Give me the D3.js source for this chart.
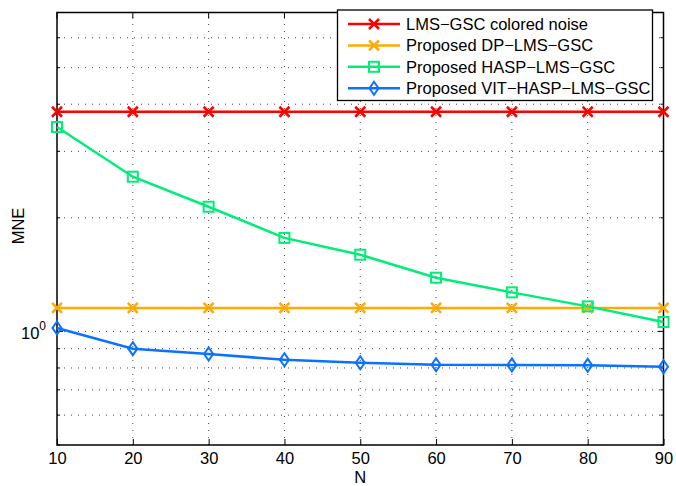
<!DOCTYPE html>
<html>
<head>
<meta charset="utf-8">
<script src="https://cdn.jsdelivr.net/npm/d3@7"></script>
<style>
  body { margin: 0; background: #fff; }
  text { font-family: "Liberation Sans", Arial, sans-serif; fill: #000; }
  .grid line { stroke: #444; stroke-width: 1; stroke-dasharray: 1,6; }
</style>
</head>
<body>
<div id="container"></div>
<script>
const width = 676;
const height = 486;
const margin = {top: 12.5, right: 12.5, bottom: 41, left: 57};

// ---- data ----
const nValues = [10, 20, 30, 40, 50, 60, 70, 80, 90];
const lmsGscColored = [3.82, 3.82, 3.82, 3.82, 3.82, 3.82, 3.82, 3.82, 3.82];
const dpLmsGsc = [1.154, 1.154, 1.154, 1.154, 1.154, 1.154, 1.154, 1.154, 1.154];
const haspLmsGsc = [3.48, 2.57, 2.14, 1.769, 1.597, 1.388, 1.269, 1.165, 1.059];
const vitHaspLmsGsc = [1.021, 0.90, 0.871, 0.841, 0.826, 0.816, 0.815, 0.813, 0.806];

const seriesNames = ["LMS\u2212GSC colored noise", "Proposed DP\u2212LMS\u2212GSC",
                     "Proposed HASP\u2212LMS\u2212GSC", "Proposed VIT\u2212HASP\u2212LMS\u2212GSC"];
const seriesColors = ["#ff0000", "#ffaa00", "#00ee77", "#0a72ff"];
const seriesMarkers = ["x", "x", "square", "diamond"];
const seriesValues = [lmsGscColored, dpLmsGsc, haspLmsGsc, vitHaspLmsGsc];

const yDomain = [0.5, 7];
const yMinorTicks = [0.5, 0.6, 0.7, 0.8, 0.9, 2, 3, 4, 5, 6, 7];
const yMajorTicks = [1];
const xTicks = [10, 20, 30, 40, 50, 60, 70, 80, 90];

const fontSize = "16.5px";

// ---- setup ----
const svg = d3.select("#container").append("svg")
    .attr("width", width).attr("height", height);

const x = d3.scaleLinear().domain([10, 90]).range([margin.left, width - margin.right]);
const y = d3.scaleLog().domain(yDomain).range([height - margin.bottom, margin.top]);

const x0 = x.range()[0], x1 = x.range()[1];
const y0 = y.range()[0], y1 = y.range()[1];

//------------------------ GRID ------------------------//
const grid = svg.append("g").attr("class", "grid");
grid.selectAll(".gx").data(xTicks.slice(1, -1)).enter().append("line")
    .attr("x1", d => x(d)).attr("x2", d => x(d))
    .attr("y1", y0).attr("y2", y1);
grid.selectAll(".gy").data(yMinorTicks.concat(yMajorTicks).filter(d => d > yDomain[0] && d < yDomain[1]))
    .enter().append("line")
    .attr("x1", x0).attr("x2", x1)
    .attr("y1", d => y(d)).attr("y2", d => y(d));

//------------------------ AXES ------------------------//
svg.append("g")
    .attr("transform", "translate(0," + y0 + ")")
    .call(d3.axisBottom(x).tickValues(xTicks).tickSize(-6).tickPadding(7).tickFormat(d3.format("d")))
    .call(g => g.select(".domain").remove())
    .call(g => g.selectAll("line").attr("stroke", "#000"))
    .call(g => g.selectAll("text").attr("font-size", fontSize).attr("font-family", null));

// top ticks
svg.append("g").selectAll("line").data(xTicks).enter().append("line")
    .attr("x1", d => x(d)).attr("x2", d => x(d))
    .attr("y1", y1).attr("y2", y1 + 6).attr("stroke", "#000");

// left / right ticks
const yt = svg.append("g");
[[x0, 1], [x1, -1]].forEach(([px, dir]) => {
  yt.selectAll(null).data(yMinorTicks).enter().append("line")
    .attr("x1", px).attr("x2", px + dir * 3)
    .attr("y1", d => y(d)).attr("y2", d => y(d)).attr("stroke", "#000");
  yt.selectAll(null).data(yMajorTicks).enter().append("line")
    .attr("x1", px).attr("x2", px + dir * 6)
    .attr("y1", d => y(d)).attr("y2", d => y(d)).attr("stroke", "#000");
});

// 10^0 label
const yl = svg.append("text")
    .attr("x", x0 - 11).attr("y", y(1) + 7.5)
    .attr("text-anchor", "end").attr("font-size", fontSize);
yl.append("tspan").text("10");
yl.append("tspan").attr("dy", -9).attr("font-size", "12px").text("0");

// box
svg.append("rect")
    .attr("x", x0).attr("y", y1)
    .attr("width", x1 - x0).attr("height", y0 - y1)
    .attr("fill", "none").attr("stroke", "#000").attr("stroke-width", 1.5);

// labels
svg.append("text")
    .attr("x", (x0 + x1) / 2).attr("y", 483)
    .attr("text-anchor", "middle").attr("font-size", fontSize).text("N");
svg.append("text")
    .attr("transform", "translate(24," + 226 + ") rotate(-90)")
    .attr("text-anchor", "middle").attr("font-size", "16.5px").text("MNE");

//------------------------ LINES ------------------------//
const line = d3.line()
    .x((d, i) => x(nValues[i]))
    .y(d => y(d));

function drawMarker(g, type, color) {
  if (type === "x") {
    g.append("path").attr("d", "M-5,-5L5,5M-5,5L5,-5")
      .attr("stroke", color).attr("stroke-width", 2.5).attr("fill", "none");
  } else if (type === "square") {
    g.append("rect").attr("x", -5).attr("y", -5).attr("width", 10).attr("height", 10)
      .attr("stroke", color).attr("stroke-width", 2).attr("fill", "none");
  } else {
    g.append("path").attr("d", "M0,-6.5L4.5,0L0,6.5L-4.5,0Z")
      .attr("stroke", color).attr("stroke-width", 2).attr("fill", "none");
  }
}

seriesValues.forEach((vals, s) => {
  const g = svg.append("g");
  g.append("path")
    .attr("d", line(vals))
    .attr("fill", "none")
    .attr("stroke", seriesColors[s])
    .attr("stroke-width", 2.5);
  vals.forEach((v, i) => {
    const m = g.append("g").attr("transform", "translate(" + x(nValues[i]) + "," + y(v) + ")");
    drawMarker(m, seriesMarkers[s], seriesColors[s]);
  });
});

//------------------------ LEGEND ------------------------//
const legend = svg.append("g");
legend.append("rect")
    .attr("x", 337.5).attr("y", 10).attr("width", 315).attr("height", 90.5)
    .attr("fill", "#fff").attr("stroke", "#000").attr("stroke-width", 1.3);
seriesNames.forEach((name, s) => {
  const ly = 24 + s * 21.4;
  legend.append("line")
    .attr("x1", 348).attr("x2", 400).attr("y1", ly).attr("y2", ly)
    .attr("stroke", seriesColors[s]).attr("stroke-width", 2.5);
  const m = legend.append("g").attr("transform", "translate(374," + ly + ")");
  drawMarker(m, seriesMarkers[s], seriesColors[s]);
  legend.append("text")
    .attr("x", 406).attr("y", ly + 6)
    .attr("font-size", fontSize).text(name);
});
</script>
</body>
</html>
